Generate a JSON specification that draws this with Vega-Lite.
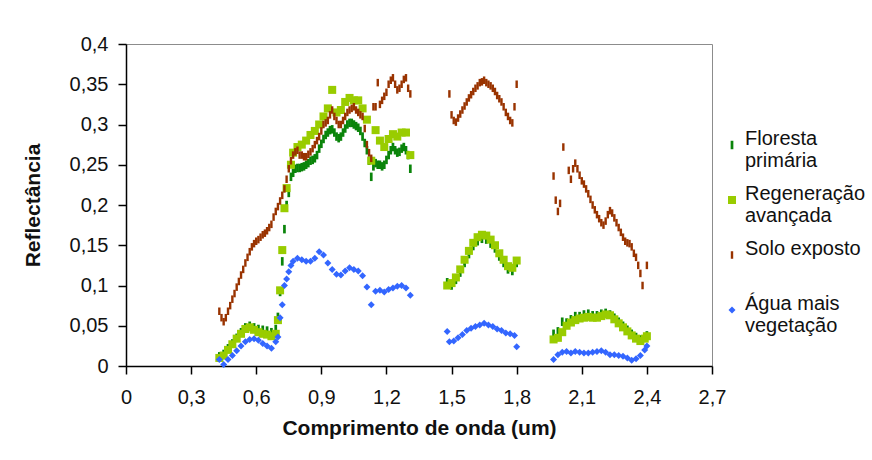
{
  "$schema": "https://vega.github.io/schema/vega-lite/v6.json",
  "width": 586,
  "height": 322,
  "autosize": {"type": "none"},
  "padding": {"left": 126, "top": 44, "right": 160, "bottom": 94},
  "background": "white",
  "config": {
    "view": {"stroke": "#8c8c8c", "strokeWidth": 1},
    "font": "Liberation Sans",
    "axis": {
      "domainColor": "#000", "tickColor": "#000", "domainWidth": 1.5, "tickWidth": 1.5,
      "labelColor": "#111", "labelFont": "Liberation Sans", "labelFontSize": 20,
      "titleFont": "Liberation Sans", "titleFontSize": 21, "titleFontWeight": "bold", "titleColor": "#111",
      "grid": false, "tickSize": 8
    },
    "legend": {
      "title": null, "orient": "none", "legendX": 596, "legendY": 91, "padding": 0,
      "labelFont": "Liberation Sans", "labelFontSize": 20, "labelColor": "#111", "labelLimit": 0,
      "symbolSize": 36, "rowPadding": 13, "labelOffset": 3, "labelBaseline": "alphabetic"
    }
  },
  "data": {
    "values": [
      {"x": 0.43, "Floresta primária": 0.012, "Regeneração avançada": 0.010, "Solo exposto": 0.068, "Água mais vegetação": 0.008},
      {"x": 0.44, "Solo exposto": 0.060},
      {"x": 0.45, "Floresta primária": 0.015, "Regeneração avançada": 0.013, "Solo exposto": 0.055, "Água mais vegetação": 0.002},
      {"x": 0.46, "Solo exposto": 0.060},
      {"x": 0.47, "Floresta primária": 0.022, "Regeneração avançada": 0.020, "Solo exposto": 0.068, "Água mais vegetação": 0.008},
      {"x": 0.48, "Solo exposto": 0.075},
      {"x": 0.49, "Floresta primária": 0.028, "Regeneração avançada": 0.027, "Solo exposto": 0.083, "Água mais vegetação": 0.013},
      {"x": 0.50, "Solo exposto": 0.090},
      {"x": 0.51, "Floresta primária": 0.035, "Regeneração avançada": 0.034, "Solo exposto": 0.098, "Água mais vegetação": 0.019},
      {"x": 0.52, "Solo exposto": 0.105},
      {"x": 0.53, "Floresta primária": 0.042, "Regeneração avançada": 0.040, "Solo exposto": 0.113, "Água mais vegetação": 0.025},
      {"x": 0.54, "Solo exposto": 0.120},
      {"x": 0.55, "Floresta primária": 0.048, "Regeneração avançada": 0.046, "Solo exposto": 0.128, "Água mais vegetação": 0.030},
      {"x": 0.56, "Solo exposto": 0.135},
      {"x": 0.57, "Floresta primária": 0.050, "Regeneração avançada": 0.048, "Solo exposto": 0.142, "Água mais vegetação": 0.033},
      {"x": 0.58, "Solo exposto": 0.148},
      {"x": 0.59, "Floresta primária": 0.048, "Regeneração avançada": 0.045, "Solo exposto": 0.152, "Água mais vegetação": 0.034},
      {"x": 0.60, "Solo exposto": 0.155},
      {"x": 0.61, "Floresta primária": 0.046, "Regeneração avançada": 0.042, "Solo exposto": 0.157, "Água mais vegetação": 0.032},
      {"x": 0.62, "Solo exposto": 0.160},
      {"x": 0.63, "Floresta primária": 0.045, "Regeneração avançada": 0.040, "Solo exposto": 0.163, "Água mais vegetação": 0.028},
      {"x": 0.64, "Solo exposto": 0.165},
      {"x": 0.65, "Floresta primária": 0.044, "Regeneração avançada": 0.039, "Solo exposto": 0.168, "Água mais vegetação": 0.025},
      {"x": 0.66, "Solo exposto": 0.172},
      {"x": 0.67, "Floresta primária": 0.042, "Regeneração avançada": 0.037, "Solo exposto": 0.176, "Água mais vegetação": 0.022},
      {"x": 0.68, "Solo exposto": 0.185},
      {"x": 0.69, "Floresta primária": 0.046, "Regeneração avançada": 0.040, "Solo exposto": 0.192, "Água mais vegetação": 0.030},
      {"x": 0.70, "Floresta primária": 0.061, "Regeneração avançada": 0.057, "Solo exposto": 0.198, "Água mais vegetação": 0.036},
      {"x": 0.71, "Floresta primária": 0.092, "Regeneração avançada": 0.094, "Solo exposto": 0.205, "Água mais vegetação": 0.060},
      {"x": 0.72, "Floresta primária": 0.130, "Regeneração avançada": 0.144, "Solo exposto": 0.212, "Água mais vegetação": 0.076},
      {"x": 0.73, "Floresta primária": 0.170, "Regeneração avançada": 0.196, "Solo exposto": 0.220, "Água mais vegetação": 0.100},
      {"x": 0.74, "Floresta primária": 0.200, "Regeneração avançada": 0.221, "Solo exposto": 0.232, "Água mais vegetação": 0.108},
      {"x": 0.75, "Floresta primária": 0.215, "Solo exposto": 0.245, "Água mais vegetação": 0.117},
      {"x": 0.76, "Floresta primária": 0.235, "Regeneração avançada": 0.250, "Solo exposto": 0.255, "Água mais vegetação": 0.125},
      {"x": 0.77, "Floresta primária": 0.240, "Regeneração avançada": 0.265, "Solo exposto": 0.262, "Água mais vegetação": 0.130},
      {"x": 0.78, "Floresta primária": 0.245, "Solo exposto": 0.266},
      {"x": 0.79, "Floresta primária": 0.246, "Regeneração avançada": 0.272, "Solo exposto": 0.268, "Água mais vegetação": 0.134},
      {"x": 0.80, "Floresta primária": 0.246, "Solo exposto": 0.262},
      {"x": 0.81, "Floresta primária": 0.247, "Regeneração avançada": 0.275, "Solo exposto": 0.262, "Água mais vegetação": 0.132},
      {"x": 0.82, "Floresta primária": 0.248, "Solo exposto": 0.260},
      {"x": 0.83, "Floresta primária": 0.250, "Regeneração avançada": 0.280, "Solo exposto": 0.260, "Água mais vegetação": 0.130},
      {"x": 0.84, "Floresta primária": 0.252, "Solo exposto": 0.263},
      {"x": 0.85, "Floresta primária": 0.255, "Regeneração avançada": 0.287, "Solo exposto": 0.266, "Água mais vegetação": 0.130},
      {"x": 0.86, "Floresta primária": 0.256, "Solo exposto": 0.270},
      {"x": 0.87, "Floresta primária": 0.258, "Regeneração avançada": 0.292, "Solo exposto": 0.275, "Água mais vegetação": 0.134},
      {"x": 0.88, "Floresta primária": 0.262, "Solo exposto": 0.280},
      {"x": 0.89, "Floresta primária": 0.270, "Regeneração avançada": 0.300, "Solo exposto": 0.285, "Água mais vegetação": 0.142},
      {"x": 0.90, "Floresta primária": 0.276, "Solo exposto": 0.292},
      {"x": 0.91, "Floresta primária": 0.282, "Regeneração avançada": 0.310, "Solo exposto": 0.300, "Água mais vegetação": 0.138},
      {"x": 0.92, "Floresta primária": 0.287, "Solo exposto": 0.302},
      {"x": 0.93, "Floresta primária": 0.290, "Regeneração avançada": 0.320, "Solo exposto": 0.305, "Água mais vegetação": 0.128},
      {"x": 0.94, "Floresta primária": 0.293, "Solo exposto": 0.312},
      {"x": 0.95, "Floresta primária": 0.294, "Regeneração avançada": 0.343, "Solo exposto": 0.318, "Água mais vegetação": 0.120},
      {"x": 0.96, "Floresta primária": 0.290, "Solo exposto": 0.310},
      {"x": 0.97, "Floresta primária": 0.285, "Regeneração avançada": 0.315, "Solo exposto": 0.305, "Água mais vegetação": 0.114},
      {"x": 0.98, "Floresta primária": 0.283, "Solo exposto": 0.300},
      {"x": 0.99, "Floresta primária": 0.285, "Regeneração avançada": 0.318, "Solo exposto": 0.300, "Água mais vegetação": 0.113},
      {"x": 1.00, "Floresta primária": 0.290, "Solo exposto": 0.305},
      {"x": 1.01, "Floresta primária": 0.295, "Regeneração avançada": 0.328, "Solo exposto": 0.310, "Água mais vegetação": 0.118},
      {"x": 1.02, "Floresta primária": 0.300, "Solo exposto": 0.315},
      {"x": 1.03, "Floresta primária": 0.302, "Regeneração avançada": 0.333, "Solo exposto": 0.318, "Água mais vegetação": 0.122},
      {"x": 1.04, "Floresta primária": 0.302, "Solo exposto": 0.320},
      {"x": 1.05, "Floresta primária": 0.300, "Regeneração avançada": 0.330, "Solo exposto": 0.322, "Água mais vegetação": 0.120},
      {"x": 1.06, "Floresta primária": 0.298, "Solo exposto": 0.318},
      {"x": 1.07, "Floresta primária": 0.296, "Regeneração avançada": 0.330, "Solo exposto": 0.315, "Água mais vegetação": 0.118},
      {"x": 1.08, "Floresta primária": 0.292, "Solo exposto": 0.312},
      {"x": 1.09, "Floresta primária": 0.285, "Regeneração avançada": 0.320, "Solo exposto": 0.310, "Água mais vegetação": 0.112},
      {"x": 1.10, "Floresta primária": 0.277, "Solo exposto": 0.295},
      {"x": 1.11, "Floresta primária": 0.268, "Regeneração avançada": 0.306, "Solo exposto": 0.275, "Água mais vegetação": 0.098},
      {"x": 1.12, "Floresta primária": 0.255, "Solo exposto": 0.265},
      {"x": 1.13, "Floresta primária": 0.235, "Regeneração avançada": 0.255, "Solo exposto": 0.258, "Água mais vegetação": 0.076},
      {"x": 1.14, "Floresta primária": 0.248, "Solo exposto": 0.322},
      {"x": 1.15, "Floresta primária": 0.252, "Regeneração avançada": 0.293, "Solo exposto": 0.322, "Água mais vegetação": 0.093},
      {"x": 1.16, "Floresta primária": 0.250, "Solo exposto": 0.352},
      {"x": 1.17, "Floresta primária": 0.250, "Regeneração avançada": 0.280, "Solo exposto": 0.325, "Água mais vegetação": 0.094},
      {"x": 1.18, "Floresta primária": 0.248, "Solo exposto": 0.330},
      {"x": 1.19, "Floresta primária": 0.250, "Regeneração avançada": 0.272, "Solo exposto": 0.335, "Água mais vegetação": 0.092},
      {"x": 1.20, "Floresta primária": 0.256, "Solo exposto": 0.340},
      {"x": 1.21, "Floresta primária": 0.262, "Regeneração avançada": 0.282, "Solo exposto": 0.350, "Água mais vegetação": 0.095},
      {"x": 1.22, "Floresta primária": 0.268, "Solo exposto": 0.355},
      {"x": 1.23, "Floresta primária": 0.272, "Regeneração avançada": 0.288, "Solo exposto": 0.358, "Água mais vegetação": 0.097},
      {"x": 1.24, "Floresta primária": 0.268, "Solo exposto": 0.350},
      {"x": 1.25, "Floresta primária": 0.265, "Regeneração avançada": 0.285, "Solo exposto": 0.343, "Água mais vegetação": 0.099},
      {"x": 1.26, "Floresta primária": 0.266, "Solo exposto": 0.345},
      {"x": 1.27, "Floresta primária": 0.270, "Regeneração avançada": 0.290, "Solo exposto": 0.350, "Água mais vegetação": 0.100},
      {"x": 1.28, "Floresta primária": 0.272, "Solo exposto": 0.356},
      {"x": 1.29, "Floresta primária": 0.268, "Regeneração avançada": 0.290, "Solo exposto": 0.358, "Água mais vegetação": 0.097},
      {"x": 1.30, "Floresta primária": 0.262, "Solo exposto": 0.345},
      {"x": 1.31, "Floresta primária": 0.245, "Regeneração avançada": 0.262, "Solo exposto": 0.338, "Água mais vegetação": 0.088},
      {"x": 1.48, "Floresta primária": 0.104, "Regeneração avançada": 0.100, "Água mais vegetação": 0.043},
      {"x": 1.49, "Solo exposto": 0.338, "Água mais vegetação": 0.030},
      {"x": 1.50, "Floresta primária": 0.100, "Regeneração avançada": 0.103, "Solo exposto": 0.312},
      {"x": 1.51, "Solo exposto": 0.305, "Água mais vegetação": 0.031},
      {"x": 1.52, "Floresta primária": 0.107, "Regeneração avançada": 0.110, "Solo exposto": 0.303},
      {"x": 1.53, "Solo exposto": 0.308, "Água mais vegetação": 0.035},
      {"x": 1.54, "Floresta primária": 0.116, "Regeneração avançada": 0.120, "Solo exposto": 0.313},
      {"x": 1.55, "Solo exposto": 0.318, "Água mais vegetação": 0.039},
      {"x": 1.56, "Floresta primária": 0.128, "Regeneração avançada": 0.132, "Solo exposto": 0.323},
      {"x": 1.57, "Solo exposto": 0.328, "Água mais vegetação": 0.044},
      {"x": 1.58, "Floresta primária": 0.139, "Regeneração avançada": 0.143, "Solo exposto": 0.333},
      {"x": 1.59, "Solo exposto": 0.337, "Água mais vegetação": 0.047},
      {"x": 1.60, "Floresta primária": 0.149, "Regeneração avançada": 0.153, "Solo exposto": 0.341},
      {"x": 1.61, "Solo exposto": 0.345, "Água mais vegetação": 0.049},
      {"x": 1.62, "Floresta primária": 0.155, "Regeneração avançada": 0.160, "Solo exposto": 0.348},
      {"x": 1.63, "Solo exposto": 0.352, "Água mais vegetação": 0.051},
      {"x": 1.64, "Floresta primária": 0.158, "Regeneração avançada": 0.163, "Solo exposto": 0.353},
      {"x": 1.65, "Solo exposto": 0.355, "Água mais vegetação": 0.053},
      {"x": 1.66, "Floresta primária": 0.157, "Regeneração avançada": 0.162, "Solo exposto": 0.352},
      {"x": 1.67, "Solo exposto": 0.350, "Água mais vegetação": 0.051},
      {"x": 1.68, "Floresta primária": 0.152, "Regeneração avançada": 0.157, "Solo exposto": 0.348},
      {"x": 1.69, "Solo exposto": 0.345, "Água mais vegetação": 0.049},
      {"x": 1.70, "Floresta primária": 0.146, "Regeneração avançada": 0.150, "Solo exposto": 0.341},
      {"x": 1.71, "Solo exposto": 0.336, "Água mais vegetação": 0.046},
      {"x": 1.72, "Floresta primária": 0.136, "Regeneração avançada": 0.140, "Solo exposto": 0.332},
      {"x": 1.73, "Solo exposto": 0.328, "Água mais vegetação": 0.044},
      {"x": 1.74, "Floresta primária": 0.128, "Regeneração avançada": 0.132, "Solo exposto": 0.322},
      {"x": 1.75, "Solo exposto": 0.315, "Água mais vegetação": 0.041},
      {"x": 1.76, "Floresta primária": 0.120, "Regeneração avançada": 0.124, "Solo exposto": 0.310},
      {"x": 1.77, "Solo exposto": 0.305, "Água mais vegetação": 0.040},
      {"x": 1.78, "Floresta primária": 0.118, "Regeneração avançada": 0.122, "Solo exposto": 0.302},
      {"x": 1.79, "Solo exposto": 0.322, "Água mais vegetação": 0.038},
      {"x": 1.80, "Floresta primária": 0.128, "Regeneração avançada": 0.131, "Solo exposto": 0.350, "Água mais vegetação": 0.024},
      {"x": 1.97, "Floresta primária": 0.040, "Regeneração avançada": 0.033, "Solo exposto": 0.236, "Água mais vegetação": 0.008},
      {"x": 1.98, "Solo exposto": 0.206},
      {"x": 1.99, "Floresta primária": 0.043, "Regeneração avançada": 0.035, "Solo exposto": 0.192, "Água mais vegetação": 0.014},
      {"x": 2.00, "Solo exposto": 0.202},
      {"x": 2.01, "Floresta primária": 0.055, "Regeneração avançada": 0.042, "Água mais vegetação": 0.017},
      {"x": 2.015, "Solo exposto": 0.272},
      {"x": 2.03, "Floresta primária": 0.054, "Regeneração avançada": 0.050, "Água mais vegetação": 0.018},
      {"x": 2.04, "Solo exposto": 0.243},
      {"x": 2.05, "Floresta primária": 0.058, "Regeneração avançada": 0.054, "Solo exposto": 0.232, "Água mais vegetação": 0.016},
      {"x": 2.06, "Solo exposto": 0.245},
      {"x": 2.07, "Floresta primária": 0.062, "Regeneração avançada": 0.057, "Solo exposto": 0.252, "Água mais vegetação": 0.018},
      {"x": 2.08, "Solo exposto": 0.245},
      {"x": 2.09, "Floresta primária": 0.062, "Regeneração avançada": 0.059, "Solo exposto": 0.237, "Água mais vegetação": 0.017},
      {"x": 2.10, "Solo exposto": 0.230},
      {"x": 2.11, "Floresta primária": 0.064, "Regeneração avançada": 0.060, "Solo exposto": 0.226, "Água mais vegetação": 0.016},
      {"x": 2.12, "Solo exposto": 0.220},
      {"x": 2.13, "Floresta primária": 0.065, "Regeneração avançada": 0.061, "Solo exposto": 0.214, "Água mais vegetação": 0.016},
      {"x": 2.14, "Solo exposto": 0.207},
      {"x": 2.15, "Floresta primária": 0.063, "Regeneração avançada": 0.060, "Solo exposto": 0.200, "Água mais vegetação": 0.017},
      {"x": 2.16, "Solo exposto": 0.194},
      {"x": 2.17, "Floresta primária": 0.063, "Regeneração avançada": 0.060, "Solo exposto": 0.188, "Água mais vegetação": 0.018},
      {"x": 2.18, "Solo exposto": 0.183},
      {"x": 2.19, "Floresta primária": 0.065, "Regeneração avançada": 0.062, "Solo exposto": 0.178, "Água mais vegetação": 0.019},
      {"x": 2.20, "Solo exposto": 0.175},
      {"x": 2.21, "Floresta primária": 0.066, "Regeneração avançada": 0.064, "Solo exposto": 0.180, "Água mais vegetação": 0.017},
      {"x": 2.22, "Solo exposto": 0.188},
      {"x": 2.23, "Floresta primária": 0.064, "Regeneração avançada": 0.063, "Solo exposto": 0.193, "Água mais vegetação": 0.014},
      {"x": 2.24, "Solo exposto": 0.190},
      {"x": 2.25, "Floresta primária": 0.060, "Regeneração avançada": 0.058, "Solo exposto": 0.184, "Água mais vegetação": 0.014},
      {"x": 2.26, "Solo exposto": 0.178},
      {"x": 2.27, "Floresta primária": 0.055, "Regeneração avançada": 0.053, "Solo exposto": 0.172, "Água mais vegetação": 0.013},
      {"x": 2.28, "Solo exposto": 0.166},
      {"x": 2.29, "Floresta primária": 0.050, "Regeneração avançada": 0.048, "Solo exposto": 0.160, "Água mais vegetação": 0.012},
      {"x": 2.30, "Solo exposto": 0.155},
      {"x": 2.31, "Floresta primária": 0.045, "Regeneração avançada": 0.043, "Solo exposto": 0.153, "Água mais vegetação": 0.010},
      {"x": 2.32, "Solo exposto": 0.152},
      {"x": 2.33, "Floresta primária": 0.040, "Regeneração avançada": 0.038, "Solo exposto": 0.148, "Água mais vegetação": 0.007},
      {"x": 2.34, "Solo exposto": 0.140},
      {"x": 2.35, "Floresta primária": 0.036, "Regeneração avançada": 0.034, "Solo exposto": 0.135, "Água mais vegetação": 0.009},
      {"x": 2.36, "Solo exposto": 0.125},
      {"x": 2.37, "Floresta primária": 0.033, "Regeneração avançada": 0.031, "Solo exposto": 0.115, "Água mais vegetação": 0.013},
      {"x": 2.38, "Solo exposto": 0.100},
      {"x": 2.39, "Floresta primária": 0.035, "Regeneração avançada": 0.034, "Água mais vegetação": 0.020},
      {"x": 2.40, "Floresta primária": 0.038, "Regeneração avançada": 0.037, "Solo exposto": 0.125, "Água mais vegetação": 0.025}
    ]
  },
  "transform": [
    {"fold": ["Floresta primária", "Regeneração avançada", "Solo exposto", "Água mais vegetação"], "as": ["serie", "y"]},
    {"filter": "isValid(datum.y)"}
  ],
  "mark": {"type": "point", "filled": true, "opacity": 1},
  "encoding": {
    "x": {
      "field": "x", "type": "quantitative",
      "scale": {"domain": [0, 2.7], "nice": false, "zero": false},
      "axis": {
        "title": "Comprimento de onda (um)",
        "values": [0, 0.3, 0.6, 0.9, 1.2, 1.5, 1.8, 2.1, 2.4, 2.7],
        "labelExpr": "replace(format(datum.value, '.1~f'), '.', ',')",
        "labelFlush": false, "labelOverlap": false, "labelPadding": 13, "titlePadding": 10
      }
    },
    "y": {
      "field": "y", "type": "quantitative",
      "scale": {"domain": [0, 0.4], "nice": false},
      "axis": {
        "title": "Reflectância",
        "values": [0, 0.05, 0.1, 0.15, 0.2, 0.25, 0.3, 0.35, 0.4],
        "labelExpr": "replace(format(datum.value, '.2~f'), '.', ',')",
        "labelFlush": false, "labelOverlap": false, "labelPadding": 10, "titlePadding": 26
      }
    },
    "color": {
      "field": "serie", "type": "nominal",
      "scale": {
        "domain": ["Floresta primária", "Regeneração avançada", "Solo exposto", "Água mais vegetação"],
        "range": ["#0a840a", "#99cc00", "#993300", "#3366ff"]
      },
      "legend": {
        "labelExpr": "datum.label == 'Floresta primária' ? ['Floresta', 'primária'] : datum.label == 'Regeneração avançada' ? ['Regeneração', 'avançada'] : datum.label == 'Água mais vegetação' ? ['Água mais', 'vegetação'] : ['Solo exposto', ' ']"
      }
    },
    "shape": {
      "field": "serie", "type": "nominal",
      "scale": {
        "domain": ["Floresta primária", "Regeneração avançada", "Solo exposto", "Água mais vegetação"],
        "range": ["M-0.32,-1H0.32V1H-0.32Z", "square", "M-0.32,-1H0.32V1H-0.32Z", "diamond"]
      },
      "legend": {
        "labelExpr": "datum.label == 'Floresta primária' ? ['Floresta', 'primária'] : datum.label == 'Regeneração avançada' ? ['Regeneração', 'avançada'] : datum.label == 'Água mais vegetação' ? ['Água mais', 'vegetação'] : ['Solo exposto', ' ']"
      }
    },
    "size": {
      "field": "serie", "type": "nominal",
      "scale": {
        "domain": ["Floresta primária", "Regeneração avançada", "Solo exposto", "Água mais vegetação"],
        "range": [72, 49, 72, 30]
      },
      "legend": null
    },
    "order": {"field": "serie", "type": "ordinal"}
  }
}
